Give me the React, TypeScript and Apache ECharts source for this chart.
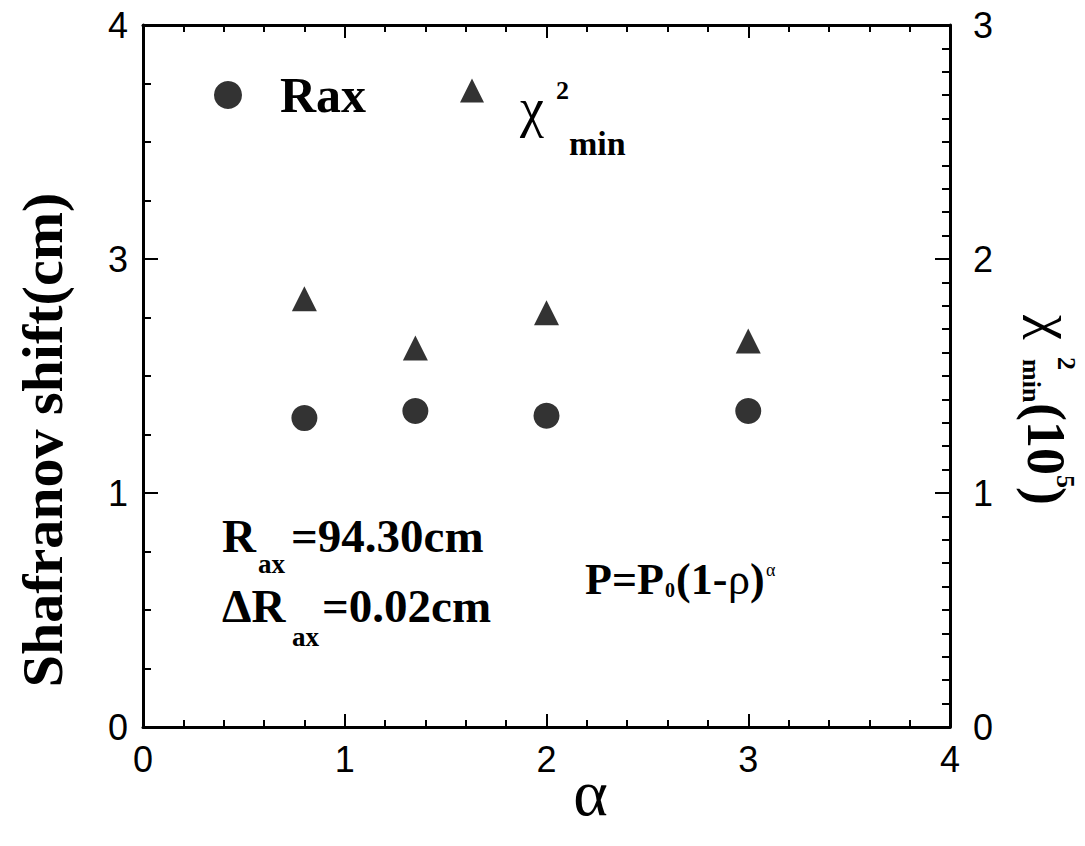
import React, { useEffect, useRef } from 'react';
import * as echarts from 'echarts';

// alpha (pressure-profile exponent) values of the four fits
const alphaValues = [0.8, 1.35, 2.0, 3.0];
// Shafranov shift of the magnetic axis, plotted on the left axis
const raxShift = [1.32, 1.35, 1.33, 1.35];
// minimum chi-square of each fit, in units of 10^5 (right axis)
const chi2Min = [1.83, 1.62, 1.77, 1.65];

const xTickLabels = ['0', '1', '2', '3', '4'];
const leftTickLabels = ['0', '1', '3', '4'];
const rightTickLabels = ['0', '1', '2', '3'];

const SERIF = '"Liberation Serif", "Times New Roman", serif';
const SANS = '"Liberation Sans", Arial, sans-serif';
const INK = '#000';

// bold serif piece of a text block
const boldText = (text: string, x: number, y: number, size = 47) => ({
  type: 'text',
  x,
  y,
  style: {
    text,
    fill: INK,
    fontFamily: SERIF,
    fontWeight: 'bold',
    fontSize: size,
    verticalAlign: 'middle',
  },
});

const plainText = (text: string, x: number, y: number, size: number) => ({
  type: 'text',
  x,
  y,
  style: {
    text,
    fill: INK,
    fontFamily: SERIF,
    fontSize: size,
    verticalAlign: 'middle',
  },
});

export default function App() {
  const ref = useRef<HTMLDivElement>(null);

  useEffect(() => {
    if (!ref.current) return;
    const chart = echarts.init(ref.current, null, { renderer: 'svg' });

    const axisLine = { show: true, onZero: false, lineStyle: { color: INK, width: 3 } };
    const tickLine = { color: INK, width: 2 };
    const tickLabel = { color: INK, fontFamily: SANS, fontSize: 36 };

    const option = {
      animation: false,
      backgroundColor: '#fff',
      grid: { left: 143, right: 135, top: 25, bottom: 119, containLabel: false, outerBoundsMode: 'none' },
      legend: [
        {
          data: [{ name: 'Rax', icon: 'circle' }],
          left: 214,
          top: 70,
          padding: 0,
          itemWidth: 28,
          itemHeight: 28,
          selectedMode: false,
          textStyle: {
            color: INK,
            fontFamily: SERIF,
            fontWeight: 'bold',
            fontSize: 50,
            padding: [24, 0, 0, 33],
          },
        },
        {
          data: [{ name: 'χ²min', icon: 'triangle' }],
          left: 460,
          top: 76,
          padding: 0,
          itemWidth: 24,
          itemHeight: 24,
          selectedMode: false,
          formatter: () => '{chi|χ}{sup|2}{sub|min}',
          textStyle: {
            color: INK,
            padding: [55, 0, 0, 31],
            rich: {
              chi: { fontFamily: SERIF, fontSize: 54, lineHeight: 54, padding: [0, 12, 21, 0], color: INK },
              sup: { fontFamily: SERIF, fontSize: 26, fontWeight: 'bold', lineHeight: 30, padding: [0, 0, 56, 0], color: INK },
              sub: { fontFamily: SERIF, fontSize: 34, fontWeight: 'bold', lineHeight: 30, padding: [50, 0, 0, 0], color: INK },
            },
          },
        },
      ],
      xAxis: [
        {
          type: 'value',
          position: 'bottom',
          min: 0,
          max: 4,
          interval: 1,
          axisLine,
          axisTick: { show: true, inside: true, length: 13, lineStyle: tickLine },
          minorTick: { show: true, splitNumber: 5, length: 7, lineStyle: tickLine },
          splitLine: { show: false },
          axisLabel: { ...tickLabel, margin: 14, formatter: (v: number) => xTickLabels[Math.round(v)] },
          name: 'α',
          nameLocation: 'middle',
          nameGap: 32,
          nameMoveOverlap: false,
          nameTextStyle: {
            color: INK,
            fontFamily: SERIF,
            fontSize: 66,
            lineHeight: 66,
            padding: [0, 0, 0, 88],
          },
        },
        {
          type: 'value',
          position: 'top',
          min: 0,
          max: 4,
          interval: 1,
          axisLine,
          axisTick: { show: true, inside: true, length: 13, lineStyle: tickLine },
          minorTick: { show: true, splitNumber: 5, length: 7, lineStyle: tickLine },
          splitLine: { show: false },
          axisLabel: { show: false },
        },
      ],
      yAxis: [
        {
          type: 'value',
          position: 'left',
          min: 0,
          max: 3,
          interval: 1,
          axisLine,
          axisTick: { show: true, inside: true, length: 15, lineStyle: tickLine },
          minorTick: { show: true, splitNumber: 4, length: 8, lineStyle: tickLine },
          splitLine: { show: false },
          axisLabel: { ...tickLabel, margin: 15, formatter: (v: number) => leftTickLabels[Math.round(v)] },
          name: '{t|Shafranov shift(cm)}',
          nameLocation: 'middle',
          nameRotate: 90,
          nameGap: 72,
          nameTextStyle: {
            padding: [0, 128, 0, 0],
            rich: { t: { color: INK, fontFamily: SERIF, fontWeight: 'bold', fontSize: 58 } },
          },
        },
        {
          type: 'value',
          position: 'right',
          min: 0,
          max: 3,
          interval: 1,
          axisLine,
          axisTick: { show: true, inside: true, length: 15, lineStyle: tickLine },
          minorTick: { show: true, splitNumber: 10, length: 8, lineStyle: tickLine },
          splitLine: { show: false },
          axisLabel: { ...tickLabel, margin: 23, formatter: (v: number) => rightTickLabels[Math.round(v)] },
        },
      ],
      series: [
        {
          name: 'Rax',
          type: 'scatter',
          xAxisIndex: 0,
          yAxisIndex: 0,
          symbol: 'circle',
          symbolSize: 26,
          itemStyle: { color: INK },
          data: alphaValues.map((a, i) => [a, raxShift[i]]),
        },
        {
          name: 'χ²min',
          type: 'scatter',
          xAxisIndex: 0,
          yAxisIndex: 1,
          symbol: 'triangle',
          symbolSize: 25,
          itemStyle: { color: INK },
          data: alphaValues.map((a, i) => [a, chi2Min[i]]),
        },
      ],
      graphic: [
        // R_ax = 94.30 cm
        boldText('R', 222, 536),
        boldText('ax', 258, 564, 27),
        boldText('=94.30cm', 291, 536),
        // ΔR_ax = 0.02 cm
        boldText('ΔR', 222, 606),
        boldText('ax', 292, 637, 27),
        boldText('=0.02cm', 322, 606),
        // pressure profile P = P0 (1 - ρ)^α
        boldText('P=P', 585, 579, 44),
        boldText('0', 665, 590, 20),
        boldText('(1-', 676, 579, 44),
        plainText('ρ', 728, 579, 44),
        boldText(')', 750, 579, 44),
        plainText('α', 766, 570, 18),
        // right-hand axis title χ²min (10^5), read top to bottom
        {
          type: 'group',
          x: 1046,
          y: 315,
          rotation: -Math.PI / 2,
          children: [
            plainText('χ', 0, -8, 56),
            boldText('2', 42, -20, 26),
            boldText('min', 44, 15, 26),
            boldText('(10', 88, 0, 54),
            boldText('5', 160, -19, 26),
            boldText(')', 172, 0, 54),
          ],
        },
      ],
    };

    chart.setOption(option as any);
    return () => chart.dispose();
  }, []);

  return (
    <div
      ref={ref}
      style={{ position: 'absolute', left: 0, top: 0, width: 1085, height: 846, background: '#fff' }}
    />
  );
}
